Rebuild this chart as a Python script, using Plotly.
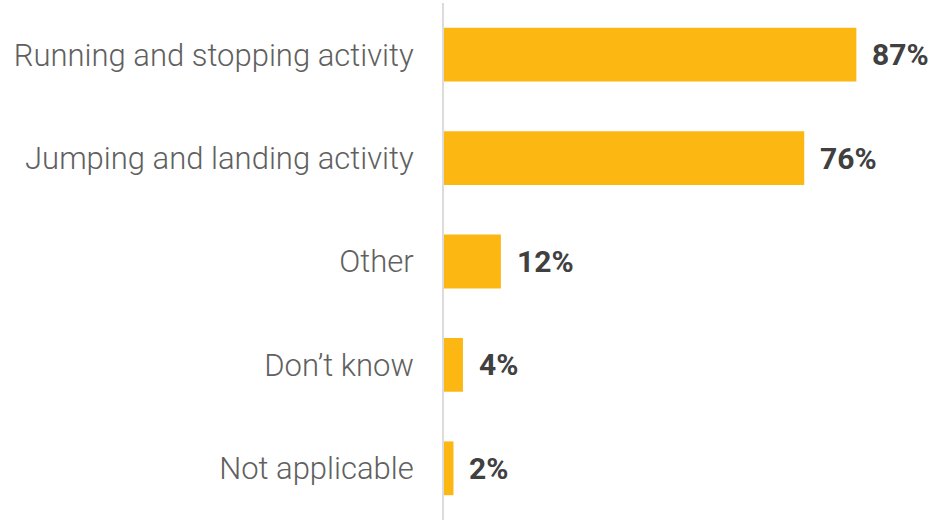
import plotly.graph_objects as go

categories = ["Running and stopping activity", "Jumping and landing activity", "Other", "Don\u2019t know", "Not applicable"]
values = [87, 76, 12, 4, 2]
value_labels = ["87%", "76%", "12%", "4%", "2%"]

fig = go.Figure(go.Bar(
    x=values, y=categories, orientation="h",
    marker=dict(color="#FDB713", line=dict(width=0)),
    width=0.52, hoverinfo="skip",
))

for c, v, t in zip(categories, values, value_labels):
    fig.add_annotation(x=v, y=c, text=t, xanchor="left", yanchor="middle",
                       xshift=14, showarrow=False,
                       font=dict(family="Roboto", size=30, color="#404040", weight="bold"))

fig.update_layout(
    width=932, height=520,
    margin=dict(l=444, r=14, t=3, b=0, autoexpand=False),
    paper_bgcolor="white", plot_bgcolor="white",
    showlegend=False,
    xaxis=dict(range=[0, 100], visible=False, fixedrange=True, automargin=False),
    yaxis=dict(autorange="reversed", showgrid=False, zeroline=False,
               showline=True, linecolor="#dcdcdc", linewidth=2, automargin=False,
               ticks="", ticklabelstandoff=22,
               tickfont=dict(family="Roboto", size=31, color="#606060", weight=300)),
)

fig.write_html("out.html", config={"displayModeBar": False},
               post_script="document.body.style.margin='0';document.body.style.overflow='hidden';")
